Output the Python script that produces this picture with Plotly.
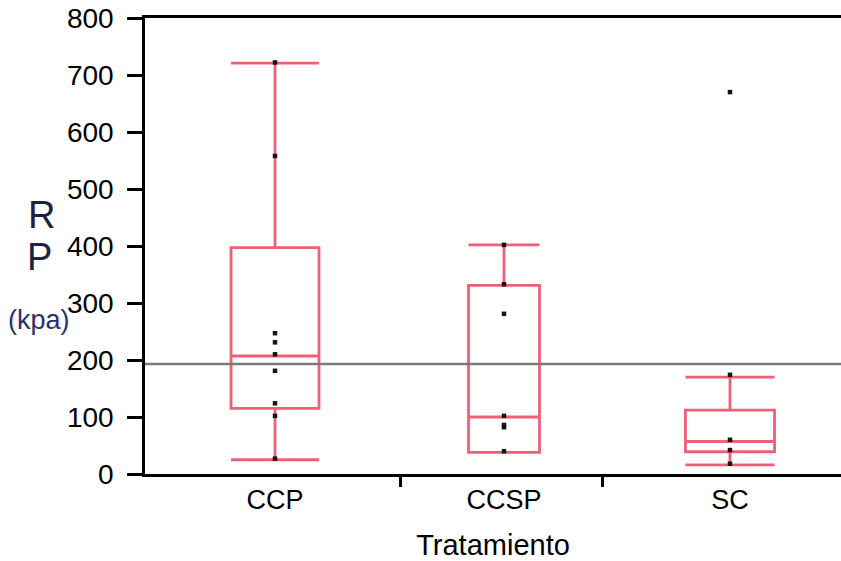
import plotly.graph_objects as go

# ---- data ----
groups = ["CCP", "CCSP", "SC"]
ccp_points = [722, 558, 247, 231, 210, 181, 124, 102, 27]
ccsp_points = [402, 333, 281, 102, 86, 82, 40]
sc_points = [670, 174, 60, 42, 18]
q1 = [115, 38, 39]
median = [207, 100, 57]
q3 = [397, 331, 112]
lowerfence = [25, 38, 16]
upperfence = [721, 402, 170]
ref_value = 193
y_ticks = [0, 100, 200, 300, 400, 500, 600, 700, 800]

# ---- layout constants (positions / styles) ----
centers = [0.1868, 0.5158, 0.8405]
widths = [0.1264, 0.102, 0.128]
boundaries = [0.3678, 0.658]
FONT = "Liberation Sans, Arial, sans-serif"
BOX_COLOR = "rgba(236,55,82,0.8)"

fig = go.Figure()
all_points = [ccp_points, ccsp_points, sc_points]
for i, g in enumerate(groups):
    fig.add_trace(go.Box(
        x=[centers[i]], q1=[q1[i]], median=[median[i]], q3=[q3[i]],
        lowerfence=[lowerfence[i]], upperfence=[upperfence[i]],
        width=widths[i], whiskerwidth=1, boxpoints=False,
        line=dict(color=BOX_COLOR, width=2.8),
        fillcolor="rgba(0,0,0,0)", name=g, hoverinfo="skip",
    ))
for i, pts in enumerate(all_points):
    fig.add_trace(go.Scatter(
        x=[centers[i]] * len(pts), y=pts, mode="markers",
        marker=dict(symbol="square", size=4.5, color="#151515", line=dict(width=0)),
        hoverinfo="skip",
    ))
# helper trace so the separator-tick axis is drawn
fig.add_trace(go.Scatter(x=[None], y=[None], xaxis="x2", mode="markers",
                         hoverinfo="skip"))

fig.add_shape(type="line", xref="paper", x0=0, x1=1, yref="y",
              y0=ref_value, y1=ref_value, line=dict(color="#7a7a7a", width=2.5))

fig.update_layout(
    width=841, height=561,
    margin=dict(l=145, r=0, t=18, b=87),
    paper_bgcolor="white", plot_bgcolor="white",
    showlegend=False, boxmode="overlay",
    font=dict(family=FONT, color="black", size=27),
    xaxis=dict(
        range=[0, 1], tickvals=centers, ticktext=groups, ticks="",
        showline=True, linecolor="black", linewidth=2.5, mirror=True,
        showgrid=False, zeroline=False,
        tickfont=dict(size=27, family=FONT),
        title=dict(text="Tratamiento", font=dict(size=29, family=FONT), standoff=24),
    ),
    xaxis2=dict(
        range=[0, 1], overlaying="x", anchor="y", side="bottom",
        tickvals=boundaries, showticklabels=False, ticks="outside",
        ticklen=12, tickwidth=2.5, tickcolor="black",
        showline=False, showgrid=False, zeroline=False,
    ),
    yaxis=dict(
        range=[0, 800], tickvals=y_ticks, ticks="outside", ticklen=15,
        tickwidth=2.5, tickcolor="black", showline=True, linecolor="black",
        linewidth=2.5, showgrid=False, zeroline=False,
        tickfont=dict(size=28, family=FONT), ticklabelstandoff=8,
    ),
    annotations=[
        dict(text="R", xref="paper", yref="paper", x=-0.148, y=0.568,
             xanchor="center", yanchor="middle", showarrow=False,
             font=dict(size=38, family=FONT, color="#1c2340")),
        dict(text="P", xref="paper", yref="paper", x=-0.151, y=0.475,
             xanchor="center", yanchor="middle", showarrow=False,
             font=dict(size=38, family=FONT, color="#1c2340")),
        dict(text="(kpa)", xref="paper", yref="paper", x=-0.153, y=0.338,
             xanchor="center", yanchor="middle", showarrow=False,
             font=dict(size=27, family=FONT, color="#283370")),
    ],
)

fig.write_html("out.html")
